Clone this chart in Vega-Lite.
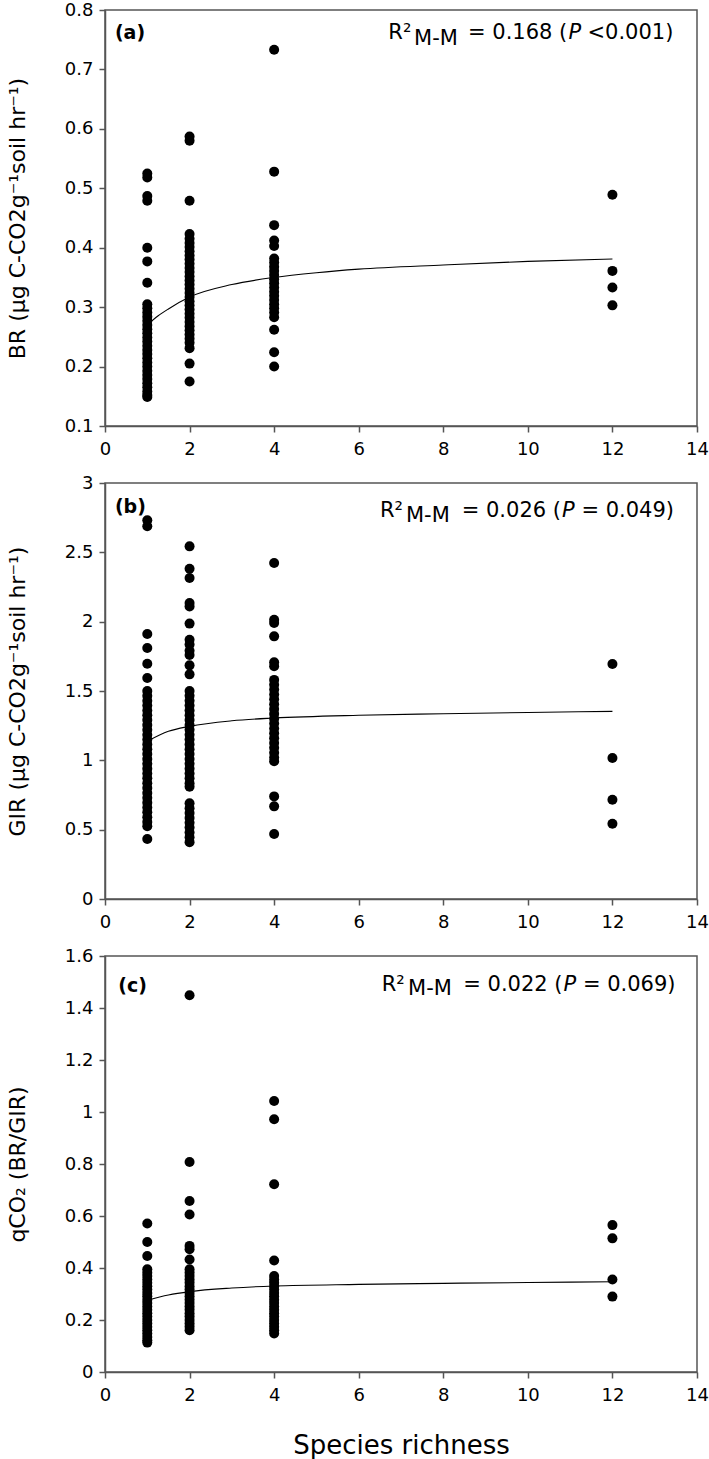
{
  "$schema": "https://vega.github.io/schema/vega-lite/v6.json",
  "padding": {"left": 5, "top": 0, "right": 0, "bottom": 0},
  "spacing": 57,
  "bounds": "flush",
  "config": {
    "font": "DejaVu Sans",
    "view": {"stroke": "#555555", "strokeWidth": 1.5},
    "axis": {"grid": false, "domainColor": "#555555", "tickColor": "#555555", "domainWidth": 1.5, "tickWidth": 1.5, "tickSize": 6, "labelFontSize": 18, "labelColor": "black", "labelPadding": 6, "titleFontSize": 22, "titleFontWeight": "normal", "titleColor": "black", "labelFlush": false, "labelOverlap": false, "labelBound": false},
    "axisY": {"titlePadding": 35},
    "axisX": {"labelPadding": 8, "titlePadding": 28}
  },
  "datasets": {
    "a_pts": [
      {"richness":1,"value":0.525},{"richness":1,"value":0.518},{"richness":1,"value":0.487},{"richness":1,"value":0.479},{"richness":1,"value":0.400},{"richness":1,"value":0.377},{"richness":1,"value":0.341},{"richness":1,"value":0.305},{"richness":1,"value":0.298},{"richness":1,"value":0.291},{"richness":1,"value":0.284},{"richness":1,"value":0.277},{"richness":1,"value":0.270},{"richness":1,"value":0.263},{"richness":1,"value":0.256},{"richness":1,"value":0.249},{"richness":1,"value":0.242},{"richness":1,"value":0.235},{"richness":1,"value":0.228},{"richness":1,"value":0.221},{"richness":1,"value":0.214},{"richness":1,"value":0.207},{"richness":1,"value":0.200},{"richness":1,"value":0.193},{"richness":1,"value":0.186},{"richness":1,"value":0.179},{"richness":1,"value":0.172},{"richness":1,"value":0.165},{"richness":1,"value":0.158},{"richness":1,"value":0.152},{"richness":1,"value":0.149},
      {"richness":2,"value":0.587},{"richness":2,"value":0.580},{"richness":2,"value":0.479},{"richness":2,"value":0.423},{"richness":2,"value":0.415},{"richness":2,"value":0.408},{"richness":2,"value":0.401},{"richness":2,"value":0.394},{"richness":2,"value":0.387},{"richness":2,"value":0.380},{"richness":2,"value":0.373},{"richness":2,"value":0.366},{"richness":2,"value":0.359},{"richness":2,"value":0.352},{"richness":2,"value":0.345},{"richness":2,"value":0.338},{"richness":2,"value":0.331},{"richness":2,"value":0.324},{"richness":2,"value":0.317},{"richness":2,"value":0.310},{"richness":2,"value":0.303},{"richness":2,"value":0.296},{"richness":2,"value":0.289},{"richness":2,"value":0.282},{"richness":2,"value":0.275},{"richness":2,"value":0.268},{"richness":2,"value":0.261},{"richness":2,"value":0.254},{"richness":2,"value":0.247},{"richness":2,"value":0.240},{"richness":2,"value":0.231},{"richness":2,"value":0.205},{"richness":2,"value":0.175},
      {"richness":4,"value":0.733},{"richness":4,"value":0.528},{"richness":4,"value":0.438},{"richness":4,"value":0.412},{"richness":4,"value":0.403},{"richness":4,"value":0.382},{"richness":4,"value":0.375},{"richness":4,"value":0.368},{"richness":4,"value":0.361},{"richness":4,"value":0.354},{"richness":4,"value":0.347},{"richness":4,"value":0.340},{"richness":4,"value":0.333},{"richness":4,"value":0.326},{"richness":4,"value":0.319},{"richness":4,"value":0.312},{"richness":4,"value":0.305},{"richness":4,"value":0.298},{"richness":4,"value":0.291},{"richness":4,"value":0.283},{"richness":4,"value":0.262},{"richness":4,"value":0.224},{"richness":4,"value":0.200},
      {"richness":12,"value":0.489},{"richness":12,"value":0.361},{"richness":12,"value":0.333},{"richness":12,"value":0.303}
    ],
    "a_fit": [
      {"richness":1,"value":0.270},{"richness":1.25,"value":0.285},{"richness":1.5,"value":0.297},{"richness":2,"value":0.317},{"richness":3,"value":0.338},{"richness":4,"value":0.350},{"richness":5,"value":0.358},{"richness":6,"value":0.364},{"richness":8,"value":0.371},{"richness":10,"value":0.377},{"richness":12,"value":0.381}
    ],
    "b_pts": [
      {"richness":1,"value":2.731},{"richness":1,"value":2.688},{"richness":1,"value":1.911},{"richness":1,"value":1.810},{"richness":1,"value":1.697},{"richness":1,"value":1.594},{"richness":1,"value":1.50},{"richness":1,"value":1.465},{"richness":1,"value":1.43},{"richness":1,"value":1.395},{"richness":1,"value":1.36},{"richness":1,"value":1.325},{"richness":1,"value":1.29},{"richness":1,"value":1.255},{"richness":1,"value":1.22},{"richness":1,"value":1.185},{"richness":1,"value":1.15},{"richness":1,"value":1.115},{"richness":1,"value":1.08},{"richness":1,"value":1.045},{"richness":1,"value":1.01},{"richness":1,"value":0.975},{"richness":1,"value":0.94},{"richness":1,"value":0.905},{"richness":1,"value":0.87},{"richness":1,"value":0.835},{"richness":1,"value":0.80},{"richness":1,"value":0.765},{"richness":1,"value":0.73},{"richness":1,"value":0.695},{"richness":1,"value":0.66},{"richness":1,"value":0.625},{"richness":1,"value":0.59},{"richness":1,"value":0.555},{"richness":1,"value":0.525},{"richness":1,"value":0.433},
      {"richness":2,"value":2.543},{"richness":2,"value":2.382},{"richness":2,"value":2.315},{"richness":2,"value":2.135},{"richness":2,"value":2.11},{"richness":2,"value":1.986},{"richness":2,"value":1.87},{"richness":2,"value":1.835},{"richness":2,"value":1.79},{"richness":2,"value":1.76},{"richness":2,"value":1.685},{"richness":2,"value":1.62},{"richness":2,"value":1.50},{"richness":2,"value":1.465},{"richness":2,"value":1.43},{"richness":2,"value":1.395},{"richness":2,"value":1.36},{"richness":2,"value":1.325},{"richness":2,"value":1.29},{"richness":2,"value":1.255},{"richness":2,"value":1.22},{"richness":2,"value":1.185},{"richness":2,"value":1.15},{"richness":2,"value":1.115},{"richness":2,"value":1.08},{"richness":2,"value":1.045},{"richness":2,"value":1.01},{"richness":2,"value":0.975},{"richness":2,"value":0.94},{"richness":2,"value":0.905},{"richness":2,"value":0.87},{"richness":2,"value":0.835},{"richness":2,"value":0.81},{"richness":2,"value":0.69},{"richness":2,"value":0.655},{"richness":2,"value":0.62},{"richness":2,"value":0.585},{"richness":2,"value":0.55},{"richness":2,"value":0.515},{"richness":2,"value":0.48},{"richness":2,"value":0.445},{"richness":2,"value":0.41},
      {"richness":4,"value":2.423},{"richness":4,"value":2.014},{"richness":4,"value":1.99},{"richness":4,"value":1.894},{"richness":4,"value":1.707},{"richness":4,"value":1.678},{"richness":4,"value":1.58},{"richness":4,"value":1.545},{"richness":4,"value":1.51},{"richness":4,"value":1.475},{"richness":4,"value":1.44},{"richness":4,"value":1.405},{"richness":4,"value":1.37},{"richness":4,"value":1.335},{"richness":4,"value":1.30},{"richness":4,"value":1.265},{"richness":4,"value":1.23},{"richness":4,"value":1.195},{"richness":4,"value":1.16},{"richness":4,"value":1.125},{"richness":4,"value":1.09},{"richness":4,"value":1.055},{"richness":4,"value":1.02},{"richness":4,"value":0.993},{"richness":4,"value":0.74},{"richness":4,"value":0.668},{"richness":4,"value":0.469},
      {"richness":12,"value":1.695},{"richness":12,"value":1.017},{"richness":12,"value":0.716},{"richness":12,"value":0.543}
    ],
    "b_fit": [
      {"richness":1,"value":1.137},{"richness":1.5,"value":1.209},{"richness":2,"value":1.245},{"richness":3,"value":1.285},{"richness":4,"value":1.305},{"richness":6,"value":1.325},{"richness":8,"value":1.336},{"richness":10,"value":1.345},{"richness":12,"value":1.353}
    ],
    "c_pts": [
      {"richness":1,"value":0.571},{"richness":1,"value":0.50},{"richness":1,"value":0.446},{"richness":1,"value":0.395},{"richness":1,"value":0.382},{"richness":1,"value":0.369},{"richness":1,"value":0.356},{"richness":1,"value":0.343},{"richness":1,"value":0.330},{"richness":1,"value":0.317},{"richness":1,"value":0.304},{"richness":1,"value":0.291},{"richness":1,"value":0.278},{"richness":1,"value":0.265},{"richness":1,"value":0.252},{"richness":1,"value":0.239},{"richness":1,"value":0.226},{"richness":1,"value":0.213},{"richness":1,"value":0.200},{"richness":1,"value":0.187},{"richness":1,"value":0.174},{"richness":1,"value":0.161},{"richness":1,"value":0.148},{"richness":1,"value":0.135},{"richness":1,"value":0.122},{"richness":1,"value":0.113},
      {"richness":2,"value":1.449},{"richness":2,"value":0.808},{"richness":2,"value":0.658},{"richness":2,"value":0.606},{"richness":2,"value":0.485},{"richness":2,"value":0.472},{"richness":2,"value":0.433},{"richness":2,"value":0.395},{"richness":2,"value":0.382},{"richness":2,"value":0.369},{"richness":2,"value":0.356},{"richness":2,"value":0.343},{"richness":2,"value":0.330},{"richness":2,"value":0.317},{"richness":2,"value":0.304},{"richness":2,"value":0.291},{"richness":2,"value":0.278},{"richness":2,"value":0.265},{"richness":2,"value":0.252},{"richness":2,"value":0.239},{"richness":2,"value":0.226},{"richness":2,"value":0.213},{"richness":2,"value":0.200},{"richness":2,"value":0.187},{"richness":2,"value":0.174},{"richness":2,"value":0.161},
      {"richness":4,"value":1.042},{"richness":4,"value":0.972},{"richness":4,"value":0.722},{"richness":4,"value":0.429},{"richness":4,"value":0.369},{"richness":4,"value":0.356},{"richness":4,"value":0.343},{"richness":4,"value":0.330},{"richness":4,"value":0.317},{"richness":4,"value":0.304},{"richness":4,"value":0.291},{"richness":4,"value":0.278},{"richness":4,"value":0.265},{"richness":4,"value":0.252},{"richness":4,"value":0.239},{"richness":4,"value":0.226},{"richness":4,"value":0.213},{"richness":4,"value":0.200},{"richness":4,"value":0.187},{"richness":4,"value":0.174},{"richness":4,"value":0.161},{"richness":4,"value":0.148},
      {"richness":12,"value":0.565},{"richness":12,"value":0.514},{"richness":12,"value":0.356},{"richness":12,"value":0.290}
    ],
    "c_fit": [
      {"richness":1,"value":0.276},{"richness":1.5,"value":0.296},{"richness":2,"value":0.309},{"richness":3,"value":0.323},{"richness":4,"value":0.331},{"richness":6,"value":0.337},{"richness":8,"value":0.341},{"richness":10,"value":0.344},{"richness":12,"value":0.347}
    ]
  },
  "vconcat": [
    {
      "width": 592, "height": 416,
      "layer": [
        {"data": {"name": "a_pts"}, "mark": {"type": "circle", "size": 100, "color": "black", "opacity": 1},
         "encoding": {
           "x": {"field": "richness", "type": "quantitative", "scale": {"domain": [0, 14], "nice": false}, "axis": {"values": [0,2,4,6,8,10,12,14], "title": null}},
           "y": {"field": "value", "type": "quantitative", "scale": {"domain": [0.1, 0.8], "nice": false, "zero": false}, "axis": {"values": [0.1,0.2,0.3,0.4,0.5,0.6,0.7,0.8], "format": "~g", "title": "BR (µg C-CO2g⁻¹soil hr⁻¹)"}}
         }},
        {"data": {"name": "a_fit"}, "mark": {"type": "line", "color": "black", "strokeWidth": 1.1, "interpolate": "monotone"},
         "encoding": {"x": {"field": "richness", "type": "quantitative"}, "y": {"field": "value", "type": "quantitative"}}},
        {"data": {"values": [{}]}, "mark": {"type": "text", "align": "left", "baseline": "alphabetic", "fontSize": 19, "fontWeight": "bold", "color": "black"},
         "encoding": {"x": {"datum": 0.235, "type": "quantitative"}, "y": {"datum": 0.751, "type": "quantitative"}, "text": {"value": "(a)"}}},
        {"data": {"values": [{}]}, "mark": {"type": "text", "align": "left", "baseline": "alphabetic", "fontSize": 21, "color": "black"},
         "encoding": {"x": {"datum": 6.7, "type": "quantitative"}, "y": {"datum": 0.7512, "type": "quantitative"}, "text": {"value": "R²"}}},
        {"data": {"values": [{}]}, "mark": {"type": "text", "align": "left", "baseline": "alphabetic", "fontSize": 21, "color": "black"},
         "encoding": {"x": {"datum": 7.308, "type": "quantitative"}, "y": {"datum": 0.7416, "type": "quantitative"}, "text": {"value": "M-M"}}},
        {"data": {"values": [{}]}, "mark": {"type": "text", "align": "left", "baseline": "alphabetic", "fontSize": 21, "color": "black"},
         "encoding": {"x": {"datum": 8.585, "type": "quantitative"}, "y": {"datum": 0.7512, "type": "quantitative"}, "text": {"value": "= 0.168 ("}}},
        {"data": {"values": [{}]}, "mark": {"type": "text", "align": "left", "baseline": "alphabetic", "fontSize": 21, "fontStyle": "italic", "color": "black"},
         "encoding": {"x": {"datum": 10.961, "type": "quantitative"}, "y": {"datum": 0.7512, "type": "quantitative"}, "text": {"value": "P"}}},
        {"data": {"values": [{}]}, "mark": {"type": "text", "align": "left", "baseline": "alphabetic", "fontSize": 21, "color": "black"},
         "encoding": {"x": {"datum": 11.41, "type": "quantitative"}, "y": {"datum": 0.7512, "type": "quantitative"}, "text": {"value": "<0.001)"}}}
      ]
    },
    {
      "width": 592, "height": 416,
      "layer": [
        {"data": {"name": "b_pts"}, "mark": {"type": "circle", "size": 100, "color": "black", "opacity": 1},
         "encoding": {
           "x": {"field": "richness", "type": "quantitative", "scale": {"domain": [0, 14], "nice": false}, "axis": {"values": [0,2,4,6,8,10,12,14], "title": null}},
           "y": {"field": "value", "type": "quantitative", "scale": {"domain": [0, 3], "nice": false}, "axis": {"values": [0,0.5,1,1.5,2,2.5,3], "format": "~g", "title": "GIR (µg C-CO2g⁻¹soil hr⁻¹)"}}
         }},
        {"data": {"name": "b_fit"}, "mark": {"type": "line", "color": "black", "strokeWidth": 1.1, "interpolate": "monotone"},
         "encoding": {"x": {"field": "richness", "type": "quantitative"}, "y": {"field": "value", "type": "quantitative"}}},
        {"data": {"values": [{}]}, "mark": {"type": "text", "align": "left", "baseline": "alphabetic", "fontSize": 19, "fontWeight": "bold", "color": "black"},
         "encoding": {"x": {"datum": 0.235, "type": "quantitative"}, "y": {"datum": 2.784, "type": "quantitative"}, "text": {"value": "(b)"}}},
        {"data": {"values": [{}]}, "mark": {"type": "text", "align": "left", "baseline": "alphabetic", "fontSize": 21, "color": "black"},
         "encoding": {"x": {"datum": 6.503, "type": "quantitative"}, "y": {"datum": 2.752, "type": "quantitative"}, "text": {"value": "R²"}}},
        {"data": {"values": [{}]}, "mark": {"type": "text", "align": "left", "baseline": "alphabetic", "fontSize": 21, "color": "black"},
         "encoding": {"x": {"datum": 7.118, "type": "quantitative"}, "y": {"datum": 2.719, "type": "quantitative"}, "text": {"value": "M-M"}}},
        {"data": {"values": [{}]}, "mark": {"type": "text", "align": "left", "baseline": "alphabetic", "fontSize": 21, "color": "black"},
         "encoding": {"x": {"datum": 8.436, "type": "quantitative"}, "y": {"datum": 2.752, "type": "quantitative"}, "text": {"value": "= 0.026 ("}}},
        {"data": {"values": [{}]}, "mark": {"type": "text", "align": "left", "baseline": "alphabetic", "fontSize": 21, "fontStyle": "italic", "color": "black"},
         "encoding": {"x": {"datum": 10.81, "type": "quantitative"}, "y": {"datum": 2.752, "type": "quantitative"}, "text": {"value": "P"}}},
        {"data": {"values": [{}]}, "mark": {"type": "text", "align": "left", "baseline": "alphabetic", "fontSize": 21, "color": "black"},
         "encoding": {"x": {"datum": 11.266, "type": "quantitative"}, "y": {"datum": 2.752, "type": "quantitative"}, "text": {"value": "= 0.049)"}}}
      ]
    },
    {
      "width": 592, "height": 416,
      "layer": [
        {"data": {"name": "c_pts"}, "mark": {"type": "circle", "size": 100, "color": "black", "opacity": 1},
         "encoding": {
           "x": {"field": "richness", "type": "quantitative", "scale": {"domain": [0, 14], "nice": false}, "axis": {"values": [0,2,4,6,8,10,12,14], "title": "Species richness", "titleFontSize": 26}},
           "y": {"field": "value", "type": "quantitative", "scale": {"domain": [0, 1.6], "nice": false}, "axis": {"values": [0,0.2,0.4,0.6,0.8,1,1.2,1.4,1.6], "format": "~g", "title": "qCO₂ (BR/GIR)"}}
         }},
        {"data": {"name": "c_fit"}, "mark": {"type": "line", "color": "black", "strokeWidth": 1.1, "interpolate": "monotone"},
         "encoding": {"x": {"field": "richness", "type": "quantitative"}, "y": {"field": "value", "type": "quantitative"}}},
        {"data": {"values": [{}]}, "mark": {"type": "text", "align": "left", "baseline": "alphabetic", "fontSize": 19, "fontWeight": "bold", "color": "black"},
         "encoding": {"x": {"datum": 0.313, "type": "quantitative"}, "y": {"datum": 1.463, "type": "quantitative"}, "text": {"value": "(c)"}}},
        {"data": {"values": [{}]}, "mark": {"type": "text", "align": "left", "baseline": "alphabetic", "fontSize": 21, "color": "black"},
         "encoding": {"x": {"datum": 6.543, "type": "quantitative"}, "y": {"datum": 1.465, "type": "quantitative"}, "text": {"value": "R²"}}},
        {"data": {"values": [{}]}, "mark": {"type": "text", "align": "left", "baseline": "alphabetic", "fontSize": 21, "color": "black"},
         "encoding": {"x": {"datum": 7.166, "type": "quantitative"}, "y": {"datum": 1.449, "type": "quantitative"}, "text": {"value": "M-M"}}},
        {"data": {"values": [{}]}, "mark": {"type": "text", "align": "left", "baseline": "alphabetic", "fontSize": 21, "color": "black"},
         "encoding": {"x": {"datum": 8.473, "type": "quantitative"}, "y": {"datum": 1.465, "type": "quantitative"}, "text": {"value": "= 0.022 ("}}},
        {"data": {"values": [{}]}, "mark": {"type": "text", "align": "left", "baseline": "alphabetic", "fontSize": 21, "fontStyle": "italic", "color": "black"},
         "encoding": {"x": {"datum": 10.845, "type": "quantitative"}, "y": {"datum": 1.465, "type": "quantitative"}, "text": {"value": "P"}}},
        {"data": {"values": [{}]}, "mark": {"type": "text", "align": "left", "baseline": "alphabetic", "fontSize": 21, "color": "black"},
         "encoding": {"x": {"datum": 11.303, "type": "quantitative"}, "y": {"datum": 1.465, "type": "quantitative"}, "text": {"value": "= 0.069)"}}}
      ]
    }
  ]
}
